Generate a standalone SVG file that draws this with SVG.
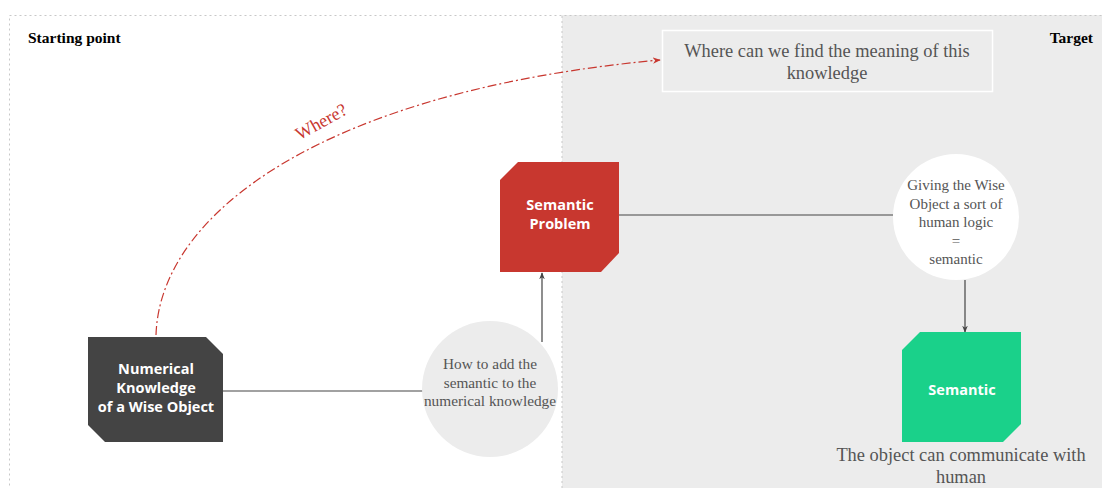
<svg xmlns="http://www.w3.org/2000/svg" width="1102" height="488" viewBox="0 0 1102 488">
<defs>
<style>
.frame{fill:none;stroke:#c8c8c8;stroke-width:1;stroke-dasharray:2 3}
.title{font-family:"Liberation Serif","Times New Roman",serif;font-weight:bold;font-size:15.5px;fill:#000}
.serif{font-family:"Liberation Serif","Times New Roman",serif;fill:#555;text-anchor:middle}
.lbl{font-family:"Open Sans","Noto Sans",sans-serif;font-weight:bold;font-size:14.5px;fill:#fff;text-anchor:middle}
.conn{fill:none;stroke:#444;stroke-width:1.2}
</style>
<marker id="ah" viewBox="0 0 10 10" refX="9" refY="5" markerWidth="7" markerHeight="7" orient="auto" markerUnits="userSpaceOnUse">
<path d="M0,1 L10,5 L0,9 L3,5 Z" fill="#444"/>
</marker>
<marker id="ahr" viewBox="0 0 10 10" refX="9" refY="5" markerWidth="8" markerHeight="8" orient="auto" markerUnits="userSpaceOnUse">
<path d="M0,1 L10,5 L0,9 L3,5 Z" fill="#c8372f"/>
</marker>
</defs>
<rect width="1102" height="488" fill="#fff"/>
<rect x="562" y="15" width="545" height="480" fill="#ececec"/>
<rect x="9.5" y="15.5" width="1100" height="480" class="frame"/>
<line x1="562" y1="16" x2="562" y2="488" class="frame"/>
<text x="28" y="43" class="title">Starting point</text>
<text x="1093" y="43" class="title" text-anchor="end">Target</text>

<g id="connectors">
<path d="M156,335 C160,210 330,90 660,60" fill="none" stroke="#c8372f" stroke-width="1.2" stroke-dasharray="9 3 2 3" marker-end="url(#ahr)"/>
<text x="324" y="127" transform="rotate(-29 324 127)" font-family="'Liberation Serif','Times New Roman',serif" font-size="18" fill="#c8372f" text-anchor="middle">Where?</text>
<line x1="223" y1="391" x2="423" y2="391" class="conn"/>
<line x1="542" y1="342" x2="542" y2="273" class="conn" marker-end="url(#ah)"/>
<line x1="619" y1="215" x2="893" y2="215" class="conn"/>
<line x1="965" y1="280" x2="965" y2="332" class="conn" marker-end="url(#ah)"/>
</g>

<g id="question">
<rect x="662.5" y="30.5" width="330" height="61" fill="#ececec" stroke="#fff" stroke-width="1.5"/>
<text class="serif" font-size="18.4"><tspan x="827" y="57">Where can we find the meaning of this</tspan><tspan x="827" y="79">knowledge</tspan></text>
</g>

<g id="numerical">
<path d="M88,337 L206,337 L223,354 L223,442 L105,442 L88,425 Z" fill="#444"/>
<text class="lbl"><tspan x="156" y="374">Numerical</tspan><tspan x="156" y="393">Knowledge</tspan><tspan x="156" y="412">of a Wise Object</tspan></text>
</g>

<g id="howto">
<circle cx="490" cy="389" r="68" fill="#ececec"/>
<text class="serif" font-size="15.3"><tspan x="490" y="369">How to add the</tspan><tspan x="490" y="388">semantic to the</tspan><tspan x="490" y="406">numerical knowledge</tspan></text>
</g>

<g id="problem">
<path d="M518,162 L619,162 L619,253 L601,272 L500,272 L500,180 Z" fill="#c8372f"/>
<text class="lbl"><tspan x="560" y="210">Semantic</tspan><tspan x="560" y="229">Problem</tspan></text>
</g>

<g id="giving">
<circle cx="956" cy="217" r="63" fill="#fff"/>
<text class="serif" font-size="15"><tspan x="956" y="190">Giving the Wise</tspan><tspan x="956" y="209">Object a sort of</tspan><tspan x="956" y="227">human logic</tspan><tspan x="956" y="246">=</tspan><tspan x="956" y="264">semantic</tspan></text>
</g>

<g id="semantic">
<path d="M920,332 L1021,332 L1021,424 L1003,442 L902,442 L902,350 Z" fill="#1ad18a"/>
<text class="lbl" x="962" y="395">Semantic</text>
<text class="serif" font-size="18.4"><tspan x="961" y="461">The object can communicate with</tspan><tspan x="961" y="483">human</tspan></text>
</g>
</svg>
